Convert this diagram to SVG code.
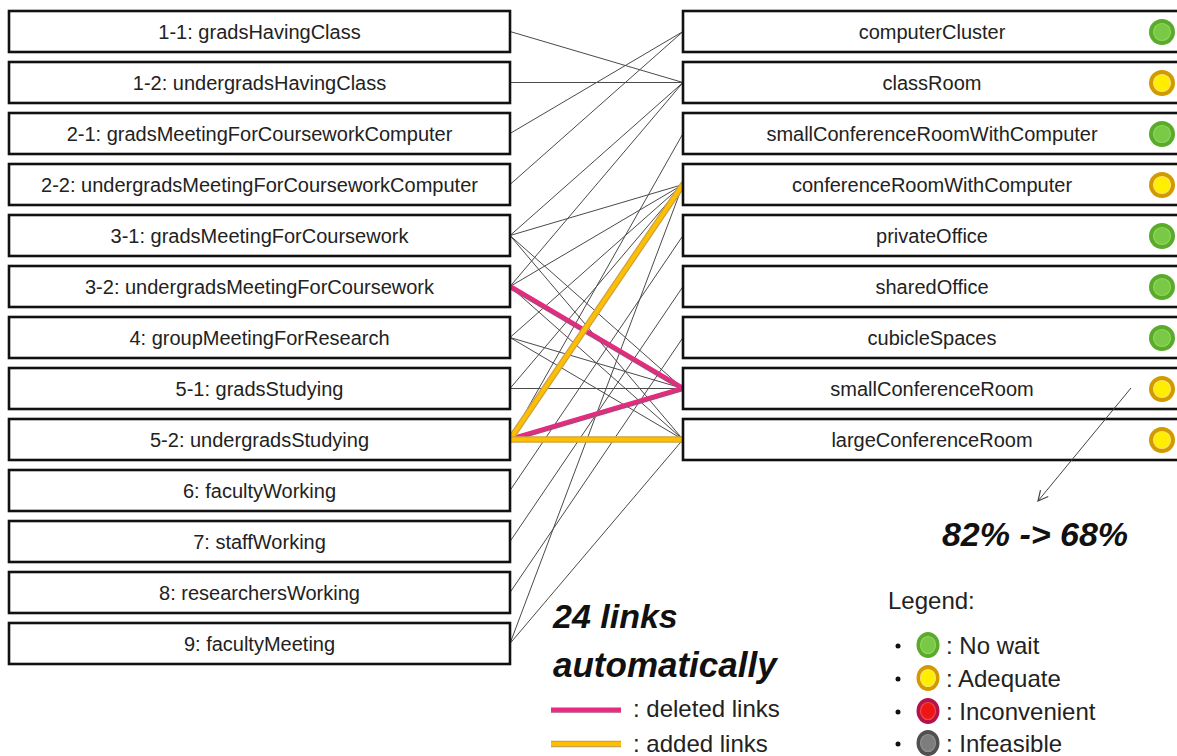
<svg xmlns="http://www.w3.org/2000/svg" width="1177" height="756" viewBox="0 0 1177 756">
  <style>
    .box { fill: #ffffff; stroke: #111111; stroke-width: 2.6; }
    .lbl { font-family: "Liberation Sans", Arial, sans-serif; font-size: 20px; fill: #222222; text-anchor: middle; }
    .link { stroke: #4a4a4a; stroke-width: 1; fill: none; }
    .del { stroke: #e52a80; stroke-width: 5; fill: none; stroke-linecap: round; }
    .del-core { stroke: #8a5a70; stroke-width: 1; fill: none; }
    .add-edge { stroke: #c9a24a; stroke-width: 6.5; fill: none; stroke-linecap: round; }
    .add { stroke: #ffbf00; stroke-width: 4; fill: none; stroke-linecap: round; }
    .big { font-family: "Liberation Sans", Arial, sans-serif; font-weight: bold; font-style: italic; fill: #111111; }
    .leg { font-family: "Liberation Sans", Arial, sans-serif; font-size: 24px; fill: #222222; }
    .g-out { fill: #5aab2c; }
    .g-in { fill: #79c946; stroke: #8fd65c; stroke-width: 1.2; }
    .y-out { fill: #d39a00; }
    .y-in { fill: #ffee00; stroke: #f6e46a; stroke-width: 1.2; }
    .r-out { fill: #b3124a; }
    .r-in { fill: #ee1515; stroke: #f04a4a; stroke-width: 1.2; }
    .k-out { fill: #505050; }
    .k-in { fill: #7d7d7d; stroke: #909090; stroke-width: 1.2; }
  </style>
  <defs>
    <marker id="arrow" viewBox="0 0 12 12" refX="11" refY="6" markerWidth="12" markerHeight="12" markerUnits="userSpaceOnUse" orient="auto">
      <path d="M1,1 L11,6 L1,11" fill="none" stroke="#444444" stroke-width="1.2"/>
    </marker>
  </defs>

  <rect width="1177" height="756" fill="#ffffff"/>

  <!-- links between activities and spaces -->
  <g id="connectors">
    <line class="link" x1="510" y1="31.5" x2="683" y2="82.5"/>
    <line class="link" x1="510" y1="82.5" x2="683" y2="82.5"/>
    <line class="link" x1="510" y1="133.5" x2="683" y2="31.5"/>
    <line class="link" x1="510" y1="184.5" x2="683" y2="31.5"/>
    <line class="link" x1="510" y1="235.5" x2="683" y2="82.5"/>
    <line class="link" x1="510" y1="235.5" x2="683" y2="184.5"/>
    <line class="link" x1="510" y1="235.5" x2="683" y2="388.5"/>
    <line class="link" x1="510" y1="235.5" x2="683" y2="439.5"/>
    <line class="link" x1="510" y1="286.5" x2="683" y2="82.5"/>
    <line class="link" x1="510" y1="286.5" x2="683" y2="184.5"/>
    <line class="link" x1="510" y1="286.5" x2="683" y2="439.5"/>
    <line class="link" x1="510" y1="337.5" x2="683" y2="184.5"/>
    <line class="link" x1="510" y1="337.5" x2="683" y2="388.5"/>
    <line class="link" x1="510" y1="337.5" x2="683" y2="439.5"/>
    <line class="link" x1="510" y1="388.5" x2="683" y2="388.5"/>
    <line class="link" x1="510" y1="388.5" x2="683" y2="184.5"/>
    <line class="link" x1="510" y1="439.5" x2="683" y2="133.5"/>
    <line class="link" x1="510" y1="490.5" x2="683" y2="235.5"/>
    <line class="link" x1="510" y1="541.5" x2="683" y2="286.5"/>
    <line class="link" x1="510" y1="592.5" x2="683" y2="337.5"/>
    <line class="link" x1="510" y1="643.5" x2="683" y2="184.5"/>
    <line class="link" x1="510" y1="643.5" x2="683" y2="439.5"/>

    <!-- deleted links -->
    <line class="del" x1="510" y1="286.5" x2="683" y2="388.5"/>
    <line class="del-core" x1="510" y1="288" x2="683" y2="390"/>
    <line class="del" x1="510" y1="439.5" x2="683" y2="388.5"/>
    <line class="del-core" x1="510" y1="441" x2="683" y2="390"/>

    <!-- added links -->
    <line class="add-edge" x1="510" y1="439.5" x2="683" y2="184.5"/>
    <line class="add" x1="510" y1="439.5" x2="683" y2="184.5"/>
    <line class="add-edge" x1="510" y1="439.5" x2="683" y2="439.5"/>
    <line class="add" x1="510" y1="439.5" x2="683" y2="439.5"/>
  </g>

  <!-- activities -->
  <g id="act-1-1"><rect class="box" x="9" y="11" width="501" height="41"/><text class="lbl" x="259.5" y="39">1-1: gradsHavingClass</text></g>
  <g id="act-1-2"><rect class="box" x="9" y="62" width="501" height="41"/><text class="lbl" x="259.5" y="90">1-2: undergradsHavingClass</text></g>
  <g id="act-2-1"><rect class="box" x="9" y="113" width="501" height="41"/><text class="lbl" x="259.5" y="141">2-1: gradsMeetingForCourseworkComputer</text></g>
  <g id="act-2-2"><rect class="box" x="9" y="164" width="501" height="41"/><text class="lbl" x="259.5" y="192">2-2: undergradsMeetingForCourseworkComputer</text></g>
  <g id="act-3-1"><rect class="box" x="9" y="215" width="501" height="41"/><text class="lbl" x="259.5" y="243">3-1: gradsMeetingForCoursework</text></g>
  <g id="act-3-2"><rect class="box" x="9" y="266" width="501" height="41"/><text class="lbl" x="259.5" y="294">3-2: undergradsMeetingForCoursework</text></g>
  <g id="act-4"><rect class="box" x="9" y="317" width="501" height="41"/><text class="lbl" x="259.5" y="345">4: groupMeetingForResearch</text></g>
  <g id="act-5-1"><rect class="box" x="9" y="368" width="501" height="41"/><text class="lbl" x="259.5" y="396">5-1: gradsStudying</text></g>
  <g id="act-5-2"><rect class="box" x="9" y="419" width="501" height="41"/><text class="lbl" x="259.5" y="447">5-2: undergradsStudying</text></g>
  <g id="act-6"><rect class="box" x="9" y="470" width="501" height="41"/><text class="lbl" x="259.5" y="498">6: facultyWorking</text></g>
  <g id="act-7"><rect class="box" x="9" y="521" width="501" height="41"/><text class="lbl" x="259.5" y="549">7: staffWorking</text></g>
  <g id="act-8"><rect class="box" x="9" y="572" width="501" height="41"/><text class="lbl" x="259.5" y="600">8: researchersWorking</text></g>
  <g id="act-9"><rect class="box" x="9" y="623" width="501" height="41"/><text class="lbl" x="259.5" y="651">9: facultyMeeting</text></g>

  <!-- spaces with their status lights -->
  <g id="sp-computerCluster"><rect class="box" x="683" y="11" width="520" height="41"/><text class="lbl" x="932" y="39">computerCluster</text><circle class="g-out" cx="1162" cy="32" r="13"/><circle class="g-in" cx="1162" cy="32" r="8.5"/></g>
  <g id="sp-classRoom"><rect class="box" x="683" y="62" width="520" height="41"/><text class="lbl" x="932" y="90">classRoom</text><circle class="y-out" cx="1162" cy="83" r="13"/><circle class="y-in" cx="1162" cy="83" r="8.5"/></g>
  <g id="sp-smallConferenceRoomWithComputer"><rect class="box" x="683" y="113" width="520" height="41"/><text class="lbl" x="932" y="141">smallConferenceRoomWithComputer</text><circle class="g-out" cx="1162" cy="134" r="13"/><circle class="g-in" cx="1162" cy="134" r="8.5"/></g>
  <g id="sp-conferenceRoomWithComputer"><rect class="box" x="683" y="164" width="520" height="41"/><text class="lbl" x="932" y="192">conferenceRoomWithComputer</text><circle class="y-out" cx="1162" cy="185" r="13"/><circle class="y-in" cx="1162" cy="185" r="8.5"/></g>
  <g id="sp-privateOffice"><rect class="box" x="683" y="215" width="520" height="41"/><text class="lbl" x="932" y="243">privateOffice</text><circle class="g-out" cx="1162" cy="236" r="13"/><circle class="g-in" cx="1162" cy="236" r="8.5"/></g>
  <g id="sp-sharedOffice"><rect class="box" x="683" y="266" width="520" height="41"/><text class="lbl" x="932" y="294">sharedOffice</text><circle class="g-out" cx="1162" cy="287" r="13"/><circle class="g-in" cx="1162" cy="287" r="8.5"/></g>
  <g id="sp-cubicleSpaces"><rect class="box" x="683" y="317" width="520" height="41"/><text class="lbl" x="932" y="345">cubicleSpaces</text><circle class="g-out" cx="1162" cy="338" r="13"/><circle class="g-in" cx="1162" cy="338" r="8.5"/></g>
  <g id="sp-smallConferenceRoom"><rect class="box" x="683" y="368" width="520" height="41"/><text class="lbl" x="932" y="396">smallConferenceRoom</text><circle class="y-out" cx="1162" cy="389" r="13"/><circle class="y-in" cx="1162" cy="389" r="8.5"/></g>
  <g id="sp-largeConferenceRoom"><rect class="box" x="683" y="419" width="520" height="41"/><text class="lbl" x="932" y="447">largeConferenceRoom</text><circle class="y-out" cx="1162" cy="440" r="13"/><circle class="y-in" cx="1162" cy="440" r="8.5"/></g>

  <!-- utilisation change -->
  <g id="utilisation">
    <line x1="1131" y1="388" x2="1038" y2="501" stroke="#444444" stroke-width="1" marker-end="url(#arrow)"/>
    <text class="big" x="1035" y="546" font-size="34" text-anchor="middle">82% -&gt; 68%</text>
  </g>

  <!-- link summary and line key -->
  <g id="link-key">
    <text class="big" x="553" y="628" font-size="34">24 links</text>
    <text class="big" x="553" y="677" font-size="35">automatically</text>
    <line x1="551" y1="710" x2="621" y2="710" stroke="#e52a80" stroke-width="5"/>
    <line x1="551" y1="712" x2="621" y2="712" stroke="#9a6078" stroke-width="1"/>
    <text class="leg" x="633" y="717">: deleted links</text>
    <line x1="551" y1="744" x2="621" y2="744" stroke="#c9a24a" stroke-width="6.5"/>
    <line x1="551" y1="744" x2="621" y2="744" stroke="#ffbf00" stroke-width="4"/>
    <text class="leg" x="633" y="752">: added links</text>
  </g>

  <!-- status legend -->
  <g id="legend">
    <text class="leg" x="888" y="609" font-size="27">Legend:</text>
    <circle cx="898" cy="646" r="2.5" fill="#111111"/>
    <ellipse class="g-out" cx="928" cy="645" rx="11.5" ry="13"/><ellipse class="g-in" cx="928" cy="645" rx="7.5" ry="8.5"/>
    <text class="leg" x="946" y="654">: No wait</text>
    <circle cx="898" cy="679" r="2.5" fill="#111111"/>
    <ellipse class="y-out" cx="928" cy="678" rx="11.5" ry="13"/><ellipse class="y-in" cx="928" cy="678" rx="7.5" ry="8.5"/>
    <text class="leg" x="946" y="687">: Adequate</text>
    <circle cx="898" cy="712" r="2.5" fill="#111111"/>
    <ellipse class="r-out" cx="928" cy="711" rx="11.5" ry="13"/><ellipse class="r-in" cx="928" cy="711" rx="7.5" ry="8.5"/>
    <text class="leg" x="946" y="720">: Inconvenient</text>
    <circle cx="898" cy="744" r="2.5" fill="#111111"/>
    <ellipse class="k-out" cx="928" cy="743" rx="11.5" ry="13"/><ellipse class="k-in" cx="928" cy="743" rx="7.5" ry="8.5"/>
    <text class="leg" x="946" y="752">: Infeasible</text>
  </g>
</svg>
